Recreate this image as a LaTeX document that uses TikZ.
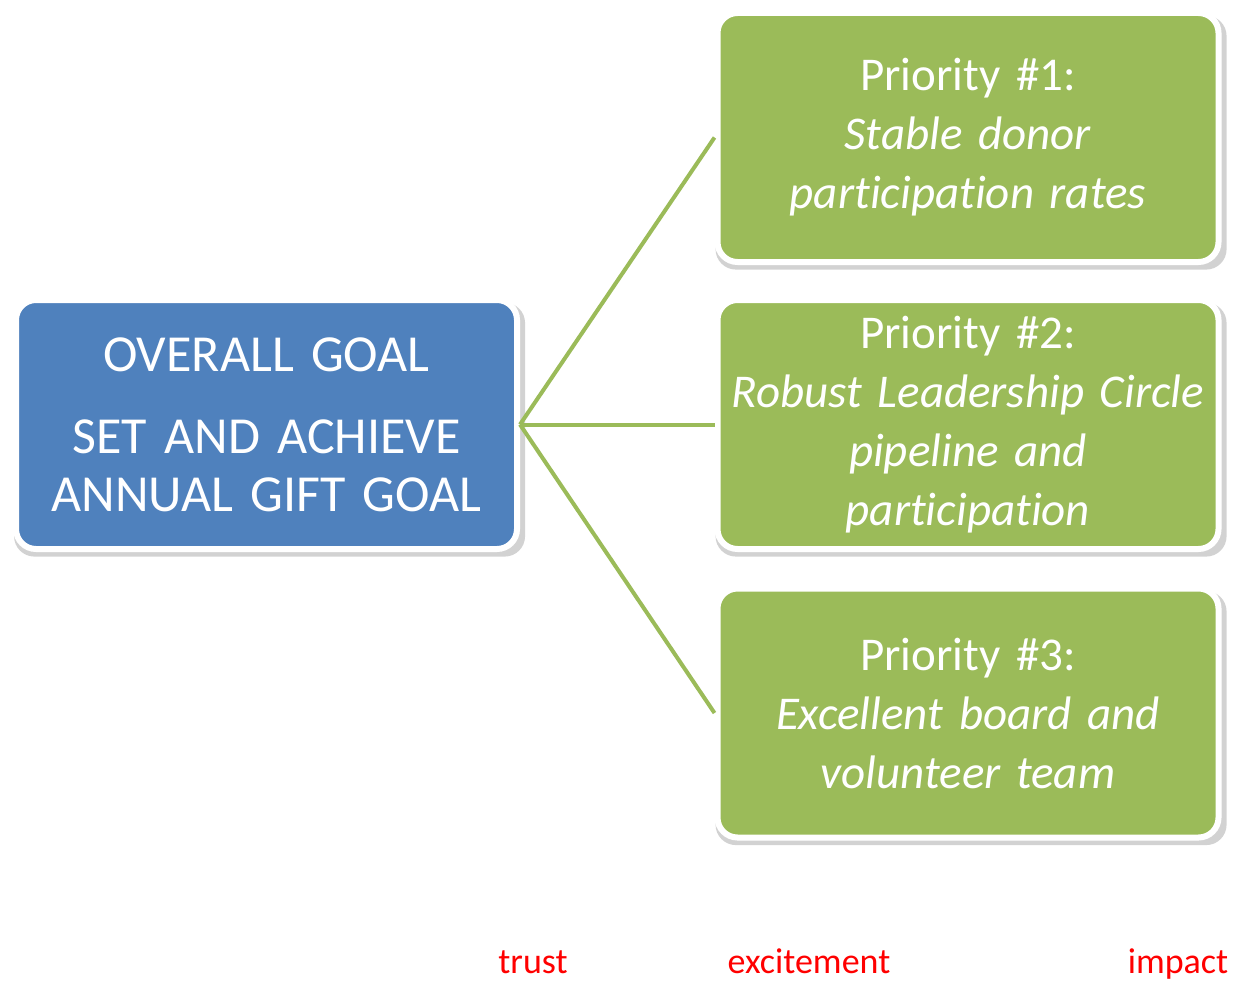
\documentclass[tikz,border=0pt]{standalone}
\usepackage{fontspec}
\setmainfont{Carlito}[Ligatures=NoCommon]
\usetikzlibrary{shadows}
\definecolor{goalblue}{HTML}{4F81BD}
\definecolor{prigreen}{HTML}{9BBB59}
\definecolor{wordred}{HTML}{FF0000}
\begin{document}
\begin{tikzpicture}[x=1pt,y=-1pt,
  box/.style={draw=white, line width=6pt, rounded corners=20pt,
    minimum width=501pt, minimum height=249pt, inner sep=0pt,
    text=white, align=center, text width=495pt,
    drop shadow={shadow xshift=3pt, shadow yshift=-5pt, shadow scale=1.02, opacity=0.25, fill=black!70}},
  goalbox/.style={box, fill=goalblue, font=\fontsize{52}{58}\selectfont},
  pribox/.style={box, fill=prigreen, font=\fontsize{47}{59}\selectfont},
  link/.style={draw=prigreen, line width=4pt},
  word/.style={text=wordred, anchor=base, font=\fontsize{36}{40}\selectfont}]
\useasboundingbox (0,0) rectangle (1233,982);
\node[goalbox] (goal) at (266.5,424.5) {OVERALL GOAL\\[24pt]SET AND ACHIEVE\\ANNUAL GIFT GOAL};
\node[pribox] (p1) at (968,137.5) {Priority \#1:\\\textit{Stable donor}\\\textit{participation rates}};
\node[pribox] (p2) at (968,424.5) {Priority \#2:\\\textit{Robust Leadership Circle}\\\textit{pipeline and}\\\textit{participation}};
\node[pribox] (p3) at (968,713) {Priority \#3:\\\textit{Excellent board and}\\\textit{volunteer team}};
\draw[link] (goal.east) -- (p1.west);
\draw[link] (goal.east) -- (p2.west);
\draw[link] (goal.east) -- (p3.west);
\node[word] (w1) at (533,973) {trust};
\node[word] (w2) at (809,973) {excitement};
\node[word] (w3) at (1178,973) {impact};
\end{tikzpicture}
\end{document}
